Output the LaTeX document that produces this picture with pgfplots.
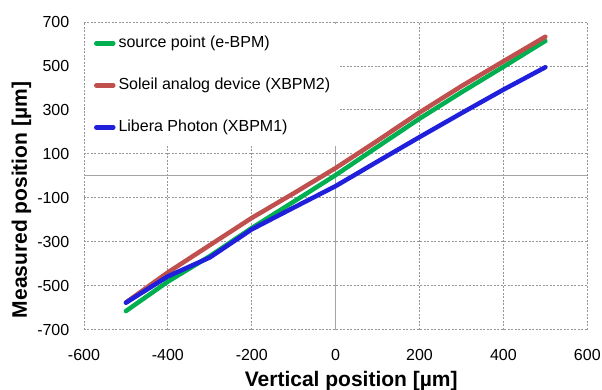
\documentclass[border=0pt]{standalone}
\usepackage{pgfplots}
\pgfplotsset{compat=1.18}
\usepackage{fontspec}
\setmainfont{Liberation Sans}
\definecolor{cgreen}{RGB}{0,176,80}
\definecolor{cred}{RGB}{192,80,77}
\definecolor{cblue}{RGB}{32,32,220}
\definecolor{cgrid}{RGB}{150,150,150}
\definecolor{czero}{RGB}{165,165,165}
\begin{document}
\begin{tikzpicture}
\useasboundingbox (-84pt,-59.5pt) rectangle (518pt,329.5pt);
\begin{axis}[
  at={(0pt,0pt)}, anchor=south west,
  scale only axis, width=503.3pt, height=307.5pt,
  xmin=-600, xmax=600, ymin=-700, ymax=700,
  xtick={-600,-400,...,600}, ytick={-700,-500,...,700},
  /pgf/number format/assume math mode=true,
  tick label style={font=\fontsize{16}{19}\selectfont},
  yticklabel style={inner sep=0pt, anchor=east, xshift=-14.5pt},
  xticklabel style={inner sep=0pt, anchor=north, yshift=-19.5pt},
  axis line style={draw=none},
  major tick length=0pt,
  grid=major,
  major grid style={cgrid, dash pattern=on 2pt off 1.5pt, line width=0.8pt},
  extra x ticks={0}, extra x tick labels={},
  extra y ticks={0}, extra y tick labels={},
  extra tick style={grid=major, major grid style={solid, czero, line width=1.3pt}},
  xlabel={Vertical position [µm]},
  ylabel={Measured position [µm]},
  label style={font=\fontsize{21}{24}\selectfont\bfseries},
  xlabel style={at={(axis description cs:0.531,-0.184)}, anchor=base, inner sep=0pt},
  ylabel style={at={(axis description cs:-0.1133,0.421)}, anchor=base, inner sep=0pt},
  legend cell align=left,
  legend image code/.code={\draw[#1] (0pt,0pt) -- (17pt,0pt);},
  legend style={at={(axis cs:-598,690)}, anchor=north west, draw=none, fill=white,
    font=\fontsize{16}{19}\selectfont, inner xsep=9pt, inner ysep=11pt, row sep=26pt,
    nodes={inner sep=0pt, text height=12pt, text depth=4pt}, column sep=3pt},
  every axis plot/.append style={line width=4.5pt, line cap=round, line join=round},
]
\addplot[cgreen] coordinates {(-500,-616) (-400,-482) (-300,-366) (-200,-238) (-100,-118) (0,3) (100,132) (200,260) (300,380) (400,496) (500,614)};
\addlegendentry{source point (e-BPM)}
\addplot[cred] coordinates {(-500,-577) (-400,-440) (-300,-316) (-200,-192) (-100,-80) (0,35) (100,160) (200,288) (300,408) (400,521) (500,633)};
\addlegendentry{Soleil analog device (XBPM2)}
\addplot[cblue] coordinates {(-500,-578) (-400,-458) (-300,-372) (-200,-244) (-100,-145) (0,-47) (100,65) (200,176) (300,285) (400,392) (500,494)};
\addlegendentry{Libera Photon (XBPM1)}
\end{axis}
\end{tikzpicture}
\end{document}
